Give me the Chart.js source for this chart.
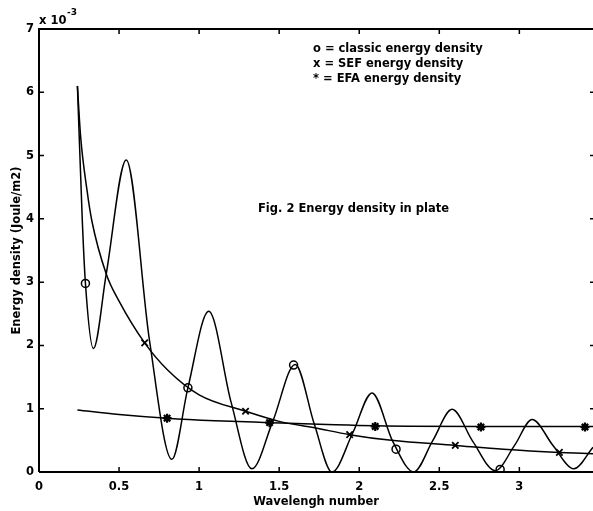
<!DOCTYPE html>
<html><head><meta charset="utf-8">
<script src="https://cdn.jsdelivr.net/npm/chart.js@4/dist/chart.umd.min.js"></script>
<style>html,body{margin:0;padding:0;background:#fff;}canvas{display:block;}</style>
</head><body>
<canvas id="c" width="593" height="511"></canvas>
<script>
// ---- data ----
const classicX = [0.24, 0.27, 0.29, 0.34, 0.42, 0.545, 0.69, 0.83, 0.93, 1.06, 1.20, 1.33, 1.46, 1.60, 1.72, 1.83, 1.96, 2.08, 2.21, 2.34, 2.46, 2.58, 2.71, 2.85, 2.97, 3.08, 3.21, 3.34, 3.46];
const classicY = [6.10, 4.00, 2.98, 1.95, 3.13, 4.93, 2.08, 0.20, 1.33, 2.54, 1.10, 0.05, 0.80, 1.70, 0.75, 0.00, 0.62, 1.25, 0.48, 0.00, 0.50, 0.99, 0.48, 0.02, 0.42, 0.83, 0.42, 0.05, 0.39];
const sefX = [0.24, 0.26, 0.30, 0.33, 0.42, 0.50, 0.66, 0.80, 1.00, 1.29, 1.50, 1.72, 1.94, 2.20, 2.60, 2.90, 3.25, 3.46];
const sefY = [6.10, 5.30, 4.45, 3.97, 3.13, 2.70, 2.04, 1.62, 1.22, 0.96, 0.80, 0.70, 0.59, 0.50, 0.42, 0.36, 0.31, 0.29];
const efaX = [0.24, 0.50, 0.80, 1.10, 1.44, 1.80, 2.10, 2.76, 3.41, 3.46];
const efaY = [0.98, 0.91, 0.85, 0.81, 0.78, 0.75, 0.73, 0.72, 0.72, 0.72];
const classicMarkX = [0.29, 0.93, 1.59, 2.23, 2.88];
const classicMarkY = [2.98, 1.33, 1.69, 0.36, 0.04];
const sefMarkX = [0.66, 1.29, 1.94, 2.60, 3.25];
const sefMarkY = [2.04, 0.96, 0.59, 0.42, 0.31];
const efaMarkX = [0.80, 1.44, 2.10, 2.76, 3.41];
const efaMarkY = [0.85, 0.78, 0.72, 0.71, 0.71];
const xTicks = [0, 0.5, 1, 1.5, 2, 2.5, 3];
const yTicks = [0, 1, 2, 3, 4, 5, 6, 7];
const legendLines = ['o = classic energy density', 'x = SEF energy density', '* = EFA energy density'];
const figTitle = 'Fig. 2 Energy density in plate';
const xTitle = 'Wavelengh number';
const yTitle = 'Energy density (Joule/m2)';

const pts = (xs, ys) => xs.map((v, i) => ({x: v, y: ys[i]}));
const FONT = 'DejaVu Sans';

const lineDs = (xs, ys) => ({
  data: pts(xs, ys), borderColor: '#000', borderWidth: 1.5, pointRadius: 0,
  cubicInterpolationMode: 'monotone', fill: false
});
const markDs = (xs, ys, style, r, bw) => ({
  data: pts(xs, ys), showLine: false, pointStyle: style, pointRadius: r,
  borderColor: '#000', backgroundColor: 'rgba(0,0,0,0)', pointBorderWidth: bw, borderWidth: bw
});

const frame = {
  id: 'frame',
  afterDatasetsDraw(chart) {
    const {ctx, chartArea: a, scales: {x, y}} = chart;
    ctx.save();
    ctx.strokeStyle = '#000';
    ctx.lineWidth = 2;
    ctx.beginPath();
    ctx.moveTo(a.left, a.bottom); ctx.lineTo(a.left, a.top); ctx.lineTo(a.right + 2, a.top);
    ctx.moveTo(a.left, a.bottom); ctx.lineTo(a.right + 2, a.bottom);
    ctx.stroke();
    ctx.lineWidth = 1.5;
    ctx.beginPath();
    const tl = 5;
    xTicks.forEach(v => {
      const p = x.getPixelForValue(v);
      ctx.moveTo(p, a.bottom); ctx.lineTo(p, a.bottom - tl);
      ctx.moveTo(p, a.top); ctx.lineTo(p, a.top + tl);
    });
    yTicks.forEach(v => {
      const p = y.getPixelForValue(v);
      ctx.moveTo(a.left, p); ctx.lineTo(a.left + tl, p);
      ctx.moveTo(a.right + 1, p); ctx.lineTo(a.right - 3, p);
    });
    ctx.stroke();
    ctx.fillStyle = '#000';
    ctx.textBaseline = 'alphabetic';
    ctx.textAlign = 'left';
    ctx.font = 'bold 11.5px "' + FONT + '"';
    ctx.fillText('x 10', 39, 24);
    ctx.font = 'bold 9px "' + FONT + '"';
    ctx.fillText('-3', 67, 15);
    ctx.font = 'bold 11.5px "' + FONT + '"';
    legendLines.forEach((t, i) => ctx.fillText(t, 313, 52 + i * 15));
    ctx.fillText(figTitle, 258, 212);
    ctx.restore();
  }
};

new Chart(document.getElementById('c'), {
  type: 'line',
  data: {
    datasets: [
      lineDs(classicX, classicY),
      lineDs(sefX, sefY),
      lineDs(efaX, efaY),
      markDs(classicMarkX, classicMarkY, 'circle', 4, 1.5),
      markDs(sefMarkX, sefMarkY, 'crossRot', 4.5, 1.8),
      markDs(efaMarkX, efaMarkY, 'star', 4.5, 2.2)
    ]
  },
  options: {
    responsive: false, animation: false, devicePixelRatio: 1,
    layout: {autoPadding: false, padding: {top: 29, left: 0, right: 0, bottom: 0}},
    plugins: {legend: {display: false}, tooltip: {enabled: false}},
    scales: {
      x: {
        type: 'linear', min: 0, max: 3.46,
        afterFit: s => { s.height = 39; s.paddingLeft = 0; s.paddingRight = 0; },
        afterBuildTicks: s => { s.ticks = xTicks.map(v => ({value: v})); },
        ticks: {color: '#000', padding: 8, includeBounds: false, font: {family: FONT, weight: 'bold', size: 11.5}, maxRotation: 0,
          callback: v => String(v)},
        grid: {display: false, drawTicks: false},
        border: {display: false},
        title: {display: true, text: xTitle, color: '#000', font: {family: FONT, weight: 'bold', size: 11.5}, padding: {top: 0, bottom: 2}}
      },
      y: {
        type: 'linear', min: 0, max: 7,
        afterFit: s => { s.width = 39; s.paddingTop = 0; s.paddingBottom = 0; },
        afterBuildTicks: s => { s.ticks = yTicks.map(v => ({value: v})); },
        ticks: {color: '#000', padding: 5, font: {family: FONT, weight: 'bold', size: 11.5}, callback: v => String(v)},
        grid: {display: false, drawTicks: false},
        border: {display: false},
        title: {display: true, text: yTitle, color: '#000', font: {family: FONT, weight: 'bold', size: 11.5}, padding: {top: 10, bottom: 0}}
      }
    }
  },
  plugins: [frame]
});
</script>
</body></html>
